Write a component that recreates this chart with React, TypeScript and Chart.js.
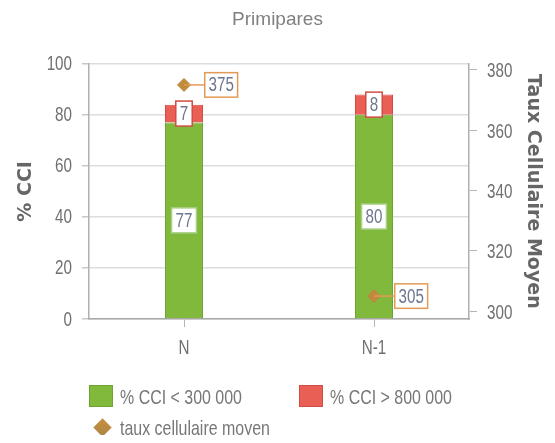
import React, { useEffect, useRef } from "react";
import { Chart, registerables } from "chart.js";

Chart.register(...registerables);

const categories = ["N", "N-1"];
const cciBelow300k = [77, 80];
const cciAbove800k = [7, 8];
const tauxCellulaire = [375, 305];
const leftTicks = [0, 20, 40, 60, 80, 100];
const rightTicks = [300, 320, 340, 360, 380];

const SANS = "'Liberation Sans', Arial, sans-serif";
const SX = 0.76; // horizontal squeeze to mimic the narrow face of the original
const GREEN = "#80b93b";
const GREEN_BORDER = "#6ea52f";
const RED = "#e95f56";
const RED_BORDER = "#d24c45";
const GOLD = "#c08a3c";
const ORANGE = "#e39a58";
const LABEL_TEXT = "#6d7890";
const TICK_TEXT = "#707070";

function drawSqueezed(ctx: CanvasRenderingContext2D, text: string, x: number, y: number, align: CanvasTextAlign) {
  ctx.save();
  ctx.translate(x, y);
  ctx.scale(SX, 1);
  ctx.textAlign = align;
  ctx.textBaseline = "middle";
  ctx.fillText(text, 0, 0);
  ctx.restore();
}

const labelPlugin = {
  id: "valueLabels",
  afterDraw(chart: any) {
    const ctx: CanvasRenderingContext2D = chart.ctx;
    const area = chart.chartArea;
    ctx.save();
    ctx.font = `20px ${SANS}`;
    ctx.fillStyle = TICK_TEXT;

    // tick labels
    const sy = chart.scales.y;
    sy.ticks.forEach((t: any) => {
      drawSqueezed(ctx, String(t.label ?? t.value), area.left - 17, sy.getPixelForValue(t.value) + 1, "right");
    });
    const sy1 = chart.scales.y1;
    sy1.ticks.forEach((t: any) => {
      drawSqueezed(ctx, String(t.label ?? t.value), area.right + 18, sy1.getPixelForValue(t.value) + 2, "left");
    });
    const sx = chart.scales.x;
    sx.ticks.forEach((t: any, i: number) => {
      drawSqueezed(ctx, String(chart.data.labels[i]), sx.getPixelForTick(i), area.bottom + 29, "center");
    });

    // value labels
    chart.data.datasets.forEach((ds: any, di: number) => {
      const meta = chart.getDatasetMeta(di);
      meta.data.forEach((el: any, i: number) => {
        const text = String(ds.data[i]);
        const tw = ctx.measureText(text).width * SX;
        if (ds.type === "line") {
          const { x, y } = el.getProps(["x", "y"], true);
          const bw = tw + 9;
          const bh = 26;
          const bx = x + 20;
          ctx.strokeStyle = ORANGE;
          ctx.lineWidth = 1.5;
          ctx.beginPath();
          ctx.moveTo(x, y);
          ctx.lineTo(bx, y);
          ctx.stroke();
          ctx.fillStyle = "#ffffff";
          ctx.fillRect(bx, y - bh / 2, bw, bh);
          ctx.strokeRect(bx + 0.75, y - bh / 2 + 0.75, bw - 1.5, bh - 1.5);
          ctx.fillStyle = LABEL_TEXT;
          drawSqueezed(ctx, text, bx + bw / 2, y + 1, "center");
        } else {
          const { x, y, base } = el.getProps(["x", "y", "base"], true);
          const cy = (y + base) / 2;
          const bw = tw + 8;
          const bh = 25;
          ctx.fillStyle = "#ffffff";
          ctx.fillRect(x - bw / 2, cy - bh / 2, bw, bh);
          ctx.strokeStyle = di === 0 ? "#a9cf83" : RED_BORDER;
          ctx.lineWidth = 1.5;
          ctx.strokeRect(x - bw / 2, cy - bh / 2, bw, bh);
          ctx.fillStyle = LABEL_TEXT;
          drawSqueezed(ctx, text, x, cy + 1, "center");
        }
      });
    });
    ctx.restore();
  },
};

export default function App() {
  const ref = useRef<HTMLCanvasElement | null>(null);
  useEffect(() => {
    if (!ref.current) return;
    const hidden = "rgba(0,0,0,0)";
    const chart = new Chart(ref.current, {
      type: "bar",
      data: {
        labels: categories,
        datasets: [
          {
            type: "bar",
            label: "% CCI < 300 000",
            data: cciBelow300k,
            backgroundColor: GREEN,
            borderColor: GREEN_BORDER,
            borderWidth: 1,
            yAxisID: "y",
            barPercentage: 0.2,
            categoryPercentage: 1,
            order: 2,
          },
          {
            type: "bar",
            label: "% CCI > 800 000",
            data: cciAbove800k,
            backgroundColor: RED,
            borderColor: RED_BORDER,
            borderWidth: 1,
            yAxisID: "y",
            barPercentage: 0.2,
            categoryPercentage: 1,
            order: 2,
          },
          {
            type: "line",
            label: "taux cellulaire moyen",
            data: tauxCellulaire,
            yAxisID: "y1",
            showLine: false,
            pointStyle: "rectRot",
            pointRadius: 6.5,
            pointBackgroundColor: GOLD,
            pointBorderColor: GOLD,
            borderColor: GOLD,
            backgroundColor: GOLD,
            order: 1,
          } as any,
        ],
      },
      options: {
        responsive: false,
        animation: false,
        layout: { padding: { left: 0, right: 0, top: 0, bottom: 76 } },
        plugins: {
          legend: { display: false },
          tooltip: { enabled: false },
          title: {
            display: true,
            text: "Primipares",
            color: "#808080",
            font: { family: SANS, size: 19, weight: "normal" },
            padding: { top: 0, bottom: 33 },
          },
        },
        scales: {
          x: {
            stacked: true,
            grid: { drawOnChartArea: false, drawTicks: true, tickLength: 8, color: "#b5b5b5", offset: false },
            border: { color: "#a8a8a8", width: 1.5 },
            ticks: { color: hidden, font: { family: SANS, size: 20 }, padding: 8 },
            afterFit: (s: any) => { s.height = 40; },
          },
          y: {
            stacked: true,
            position: "left",
            min: 0,
            max: 100,
            afterBuildTicks: (s: any) => { s.ticks = leftTicks.map((v) => ({ value: v })); },
            grid: { color: "#dddddd", tickColor: "#c8c8c8", tickLength: 7, lineWidth: 1.5 },
            border: { color: "#b0b0b0", width: 1.5 },
            ticks: { color: hidden, font: { family: SANS, size: 20 }, padding: 10 },
            title: {
              display: true,
              text: "% CCI",
              color: "#666666",
              font: { family: "'DejaVu Sans', sans-serif", size: 19, weight: "bold" },
              padding: { top: 7, bottom: 0 },
            },
            afterFit: (s: any) => { s.width = 81; },
          },
          y1: {
            position: "right",
            min: 297.4,
            max: 382,
            afterBuildTicks: (s: any) => { s.ticks = rightTicks.map((v) => ({ value: v })); },
            grid: { drawOnChartArea: false, tickLength: 8, color: "#b5b5b5" },
            border: { color: "#b0b0b0", width: 1.5 },
            ticks: { color: hidden, font: { family: SANS, size: 20 }, padding: 10 },
            title: {
              display: true,
              text: "Taux Cellulaire Moyen",
              color: "#666666",
              font: { family: "'DejaVu Sans', sans-serif", size: 19, weight: "bold" },
              padding: { top: 3, bottom: 0 },
            },
            afterFit: (s: any) => { s.width = 78; },
          },
        },
      },
      plugins: [labelPlugin],
    });
    return () => chart.destroy();
  }, []);

  const legendText: React.CSSProperties = {
    position: "absolute",
    font: `21px ${SANS}`,
    color: "#777777",
    lineHeight: "24px",
    whiteSpace: "nowrap",
    transform: `scaleX(${SX})`,
    transformOrigin: "left center",
  };

  return (
    <div style={{ position: "relative", width: 539, height: 427 }}>
      <canvas ref={ref} width={539} height={427} style={{ display: "block", width: 539, height: 427 }} />
      <div style={{ position: "absolute", left: 81, top: 377, width: 22, height: 20, background: GREEN, border: `1px solid ${GREEN_BORDER}` }} />
      <div style={{ ...legendText, left: 112, top: 377 }}>% CCI &lt; 300 000</div>
      <div style={{ position: "absolute", left: 291, top: 377, width: 22, height: 20, background: RED, border: `1px solid ${RED_BORDER}` }} />
      <div style={{ ...legendText, left: 322, top: 377 }}>% CCI &gt; 800 000</div>
      <div style={{ position: "absolute", left: 88, top: 413, width: 13, height: 13, background: "linear-gradient(135deg, #c98f3e, #a98645)", transform: "rotate(45deg)" }} />
      <div style={{ ...legendText, left: 112, top: 408 }}>taux cellulaire moyen</div>
    </div>
  );
}
